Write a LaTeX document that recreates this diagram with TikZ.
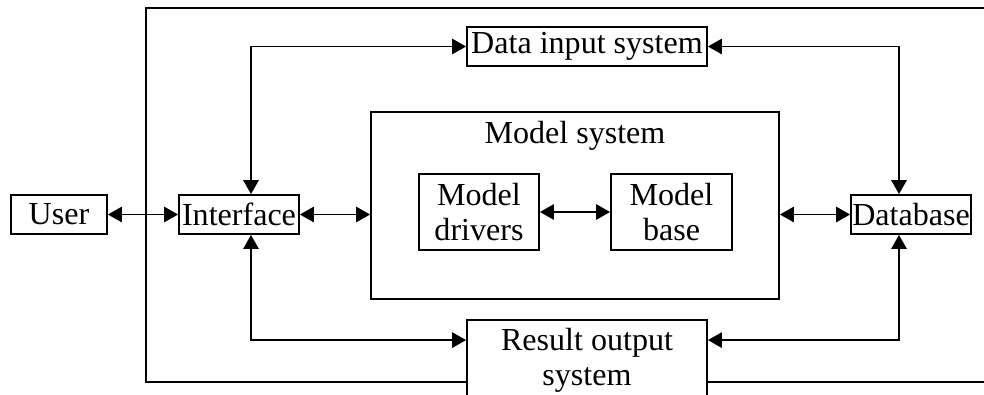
\documentclass[tikz,border=0pt]{standalone}
\usepackage{fontspec}
\setmainfont{Liberation Serif}
\usetikzlibrary{arrows.meta}
\newcommand{\px}{0.025cm}
\tikzset{
  box/.style={draw, line width=1.3pt, inner sep=0pt, align=center, fill=white},
  twoway/.style={{Triangle[length=10pt,width=11pt]}-{Triangle[length=10pt,width=11pt]}, line width=1.3pt},
}
\begin{document}
\begin{tikzpicture}[x=\px, y=-\px, font=\fontsize{22.8}{25}\selectfont]
      \useasboundingbox (0,0) rectangle (984,394);
      \clip (0,0) rectangle (984,394);
      % outer frame, runs off the right edge
      \draw[line width=1.3pt] (146,8) rectangle (1010,382);
      \draw
        (59,214.5) node[box, minimum width=96*\px, minimum height=39*\px] (user){User}
        (239,214.5) node[box, minimum width=120*\px, minimum height=39*\px] (interface){Interface}
        (587,46.5) node[box, minimum width=240*\px, minimum height=39*\px] (data){Data input system}
        (575,205.5) node[box, minimum width=408*\px, minimum height=187*\px] (model){}
        (575,143) node[anchor=base] (modeltitle){Model system}
        (479,212) node[box, minimum width=120*\px, minimum height=76*\px] (drivers){Model\\drivers}
        (671.5,212) node[box, minimum width=121*\px, minimum height=76*\px] (base){Model\\base}
        (911,214.5) node[box, minimum width=120*\px, minimum height=39*\px] (database){Database}
        (587,360) node[box, minimum width=240*\px, minimum height=80*\px] (result){Result output\\system};
      \begin{scope}[twoway]
        \draw (user) to (interface);
        \draw (interface.east) to (interface.east -| model.west);
        \draw (drivers) to (base);
        \draw (model.east |- database) to (database.west);
        \draw ([xshift=12*\px]interface.north) |- (data.west);
        \draw (data.east) -| ([xshift=-12*\px]database.north);
        \draw ([xshift=12*\px]interface.south) |- ([yshift=-21*\px]result.north west);
        \draw ([xshift=-12*\px]database.south) |- ([yshift=-21*\px]result.north east);
      \end{scope}
    \end{tikzpicture}
\end{document}
